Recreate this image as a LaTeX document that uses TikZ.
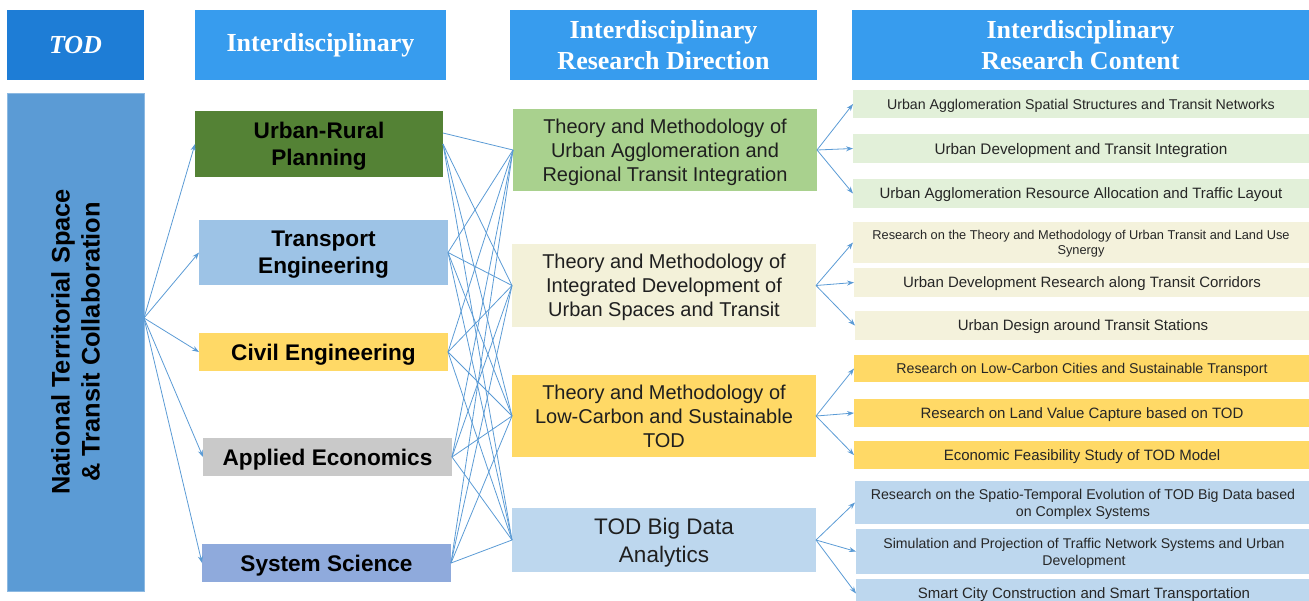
\documentclass[tikz,border=0pt]{standalone}
\usepackage{fontspec}
\setmainfont{Liberation Serif}
\setsansfont{Liberation Sans}
\usetikzlibrary{arrows.meta}
\definecolor{todblue}{HTML}{1E7DD6}
\definecolor{hdrblue}{HTML}{379CEE}
\definecolor{leftblue}{HTML}{5B9BD5}
\definecolor{lineblue}{HTML}{5B9BD5}
\definecolor{urgreen}{HTML}{548235}
\definecolor{trblue}{HTML}{9DC3E6}
\definecolor{gold}{HTML}{FFD966}
\definecolor{grayc}{HTML}{C9C9C9}
\definecolor{sysblue}{HTML}{8FAADC}
\definecolor{dgreen}{HTML}{A9D18E}
\definecolor{cream}{HTML}{F3F1D9}
\definecolor{lblue}{HTML}{BDD7EE}
\definecolor{lgreen}{HTML}{E2F0D9}
\definecolor{lcream}{HTML}{F4F2DC}
\begin{document}
\begin{tikzpicture}[x=1pt,y=-1pt,
  bx/.style={draw=none,inner sep=0pt,outer sep=0pt,align=center,anchor=north west},
  hdr/.style={bx,fill=hdrblue,text=white,font=\fontsize{26}{31}\selectfont\bfseries},
  disc/.style={bx,text depth=0pt,text=black,font=\sffamily\bfseries\fontsize{22.6}{27}\selectfont},
  dirbox/.style={bx,text depth=0pt,text=black!88,font=\sffamily\fontsize{20}{24}\selectfont},
  contbox/.style={bx,text depth=0pt,text=black!85,minimum width=456pt,font=\sffamily\fontsize{15}{17}\selectfont},
  conn/.style={draw=lineblue,line width=0.8pt},
  arr/.style={conn,-{Stealth[length=7pt,width=5pt]}}]
\useasboundingbox (0,0) rectangle (1309,600);
% headers
\node[hdr,fill=todblue,minimum width=137pt,minimum height=70pt] (h1) at (7,10) {\itshape TOD};
\node[hdr,minimum width=251pt,minimum height=70pt] (h2) at (195,10) {Interdisciplinary};
\node[hdr,minimum width=307pt,minimum height=70pt] (h3) at (510,10) {Interdisciplinary\\Research Direction};
\node[hdr,minimum width=457pt,minimum height=70pt] (h4) at (852,10) {Interdisciplinary\\Research Content};
% left box
\node[fill=leftblue,draw=leftblue!70!white,line width=0.6pt,inner sep=0pt,rotate=90,minimum width=498pt,minimum height=137pt,align=center,text=black,font=\sffamily\bfseries\fontsize{25.4}{30}\selectfont] (L) at (75.5,342) {National Territorial Space\\\& Transit Collaboration};
\coordinate (ls) at (144,318);
% disciplines
\node[disc,fill=urgreen,minimum width=248pt,minimum height=66pt] (U) at (195,111) {Urban-Rural\\Planning};
\node[disc,fill=trblue,minimum width=249pt,minimum height=65pt] (T) at (199,220) {Transport\\Engineering};
\node[disc,fill=gold,minimum width=249pt,minimum height=38pt] (C) at (199,333) {Civil Engineering};
\node[disc,fill=grayc,minimum width=249pt,minimum height=38pt] (A) at (203,438) {Applied Economics};
\node[disc,fill=sysblue,minimum width=249pt,minimum height=38pt] (S) at (202,544) {System Science};
% directions
\node[dirbox,fill=dgreen,minimum width=304pt,minimum height=82pt] (D1) at (513,109) {Theory and Methodology of\\Urban Agglomeration and\\Regional Transit Integration};
\node[dirbox,fill=cream,minimum width=304pt,minimum height=83pt] (D2) at (512,244) {Theory and Methodology of\\Integrated Development of\\Urban Spaces and Transit};
\node[dirbox,fill=gold,minimum width=304pt,minimum height=82pt] (D3) at (512,375) {Theory and Methodology of\\Low-Carbon and Sustainable\\TOD};
\node[dirbox,fill=lblue,minimum width=304pt,minimum height=64pt,font=\sffamily\fontsize{22.5}{28}\selectfont] (D4) at (512,508) {TOD Big Data\\Analytics};
% contents
\node[contbox,fill=lgreen,minimum height=28pt,font=\sffamily\fontsize{14.2}{17}\selectfont] (C1) at (853,90) {Urban Agglomeration Spatial Structures and Transit Networks};
\node[contbox,fill=lgreen,minimum height=29pt,font=\sffamily\fontsize{15.3}{17}\selectfont] (C2) at (853,134) {Urban Development and Transit Integration};
\node[contbox,fill=lgreen,minimum height=29pt] (C3) at (853,179) {Urban Agglomeration Resource Allocation and Traffic Layout};
\node[contbox,fill=lcream,minimum height=41pt,font=\sffamily\fontsize{12.8}{15}\selectfont] (C4) at (853,222) {Research on the Theory and Methodology of Urban Transit and Land Use\\Synergy};
\node[contbox,fill=lcream,minimum height=29pt] (C5) at (854,268) {Urban Development Research along Transit Corridors};
\node[contbox,fill=lcream,minimum height=29pt] (C6) at (855,311) {Urban Design around Transit Stations};
\node[contbox,fill=gold,minimum height=27pt,font=\sffamily\fontsize{14.2}{17}\selectfont] (C7) at (854,355) {Research on Low-Carbon Cities and Sustainable Transport};
\node[contbox,fill=gold,minimum height=28pt] (C8) at (854,399) {Research on Land Value Capture based on TOD};
\node[contbox,fill=gold,minimum height=28pt] (C9) at (854,441) {Economic Feasibility Study of TOD Model};
\node[contbox,fill=lblue,minimum height=43pt,font=\sffamily\fontsize{14.2}{17}\selectfont] (C10) at (855,481) {Research on the Spatio-Temporal Evolution of TOD Big Data based\\on Complex Systems};
\node[contbox,fill=lblue,minimum height=45pt,font=\sffamily\fontsize{14.1}{17}\selectfont] (C11) at (856,529) {Simulation and Projection of Traffic Network Systems and Urban\\Development};
\node[contbox,fill=lblue,minimum height=29pt] (C12) at (856,579) {Smart City Construction and Smart Transportation};
% left arrows
\foreach \t in {U,T,C,A,S} \draw[arr] (ls) -- (\t.west);
% middle lines
\draw[conn] ([yshift=11pt]U.east) -- (D1.west);
\foreach \d in {D2,D3,D4} \draw[conn] (U.east) -- (\d.west);
\foreach \s in {T,C,A,S} \foreach \d in {D1,D2,D3,D4} \draw[conn] (\s.east) -- (\d.west);
% right arrows
\foreach \c in {C1,C2,C3} \draw[arr] (D1.east) -- (\c.west);
\foreach \c in {C4,C5,C6} \draw[arr] (D2.east) -- (\c.west);
\foreach \c in {C7,C8,C9} \draw[arr] (D3.east) -- (\c.west);
\foreach \c in {C10,C11,C12} \draw[arr] (D4.east) -- (\c.west);
\end{tikzpicture}
\end{document}
